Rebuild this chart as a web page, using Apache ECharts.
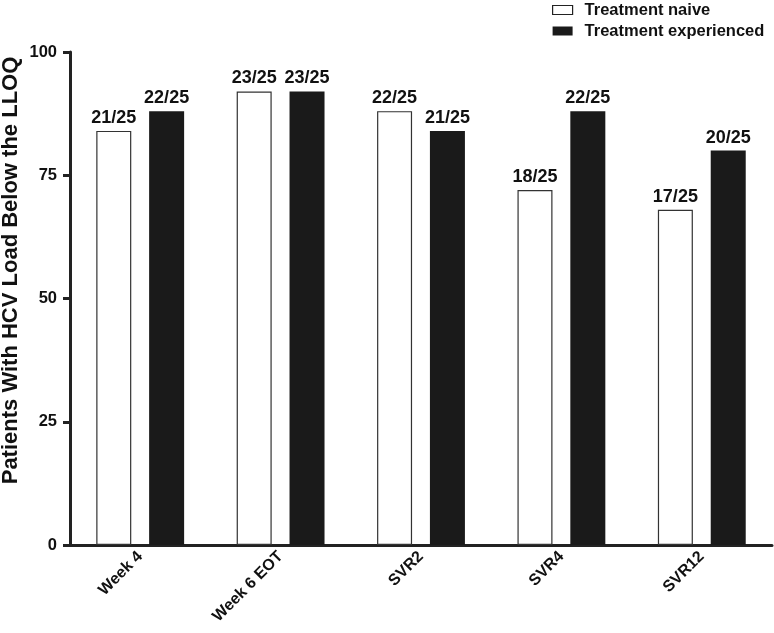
<!DOCTYPE html>
<html>
<head>
<meta charset="utf-8">
<script src="https://cdn.jsdelivr.net/npm/echarts@6/dist/echarts.min.js"></script>
<style>html,body{margin:0;padding:0;background:#fff;}#c{width:774px;height:633px;}</style>
</head>
<body>
<div id="c"></div>
<script>
const categories = ['Week 4', 'Week 6 EOT', 'SVR2', 'SVR4', 'SVR12'];
const naiveValues = [84, 92, 88, 72, 68];
const experiencedValues = [88, 92, 84, 88, 80];
const naiveLabels = ['21/25', '23/25', '22/25', '18/25', '17/25'];
const experiencedLabels = ['22/25', '23/25', '21/25', '22/25', '20/25'];
const yTicks = [0, 25, 50, 75, 100];

const chart = echarts.init(document.getElementById('c'));
const fontFamily = 'Liberation Sans, Arial, sans-serif';
chart.setOption({
  animation: false,
  backgroundColor: '#fff',
  legend: {
    orient: 'vertical',
    left: 552,
    top: 0,
    itemWidth: 20,
    itemHeight: 9,
    itemGap: 1,
    padding: 0,
    textStyle: {fontFamily, fontWeight: 'bold', fontSize: 16.5, color: '#111', lineHeight: 20, padding: [0, 0, 0, 7]},
    data: [
      {name: 'Treatment naive', icon: 'rect', itemStyle: {color: '#fff', borderColor: '#222', borderWidth: 1.2}},
      {name: 'Treatment experienced', icon: 'rect'}
    ]
  },
  grid: {left: 70, right: 2, top: 52, bottom: 88, containLabel: false, outerBoundsMode: 'none'},
  xAxis: {
    type: 'category',
    data: categories,
    axisLine: {lineStyle: {color: '#222', width: 3}},
    axisTick: {alignWithLabel: true, length: 6, lineStyle: {color: '#222', width: 3}},
    axisLabel: {rotate: 45, fontFamily, fontWeight: 'bold', fontSize: 16, color: '#111', margin: 9, interval: 0}
  },
  yAxis: {
    type: 'value',
    min: 0, max: 100, interval: 25,
    name: 'Patients With HCV Load Below the LLOQ',
    nameLocation: 'middle',
    nameGap: 48,
    nameMoveOverlap: false,
    nameTextStyle: {fontFamily, fontWeight: 'bold', fontSize: 22, color: '#111', padding: [0, 0, 0, 56]},
    splitLine: {show: false},
    axisLine: {show: true, lineStyle: {color: '#222', width: 3}},
    axisTick: {show: true, length: 7, lineStyle: {color: '#222', width: 3}},
    axisLabel: {fontFamily, fontWeight: 'bold', fontSize: 16.5, color: '#111', margin: 13,
      formatter: v => yTicks.includes(v) ? String(v) : ''}
  },
  series: [
    {
      name: 'Treatment naive',
      type: 'bar',
      data: naiveValues,
      barWidth: 35,
      barGap: '51%',
      itemStyle: {color: '#fff', borderColor: '#333', borderWidth: 1.2},
      label: {show: true, position: 'top', distance: 4, fontFamily, fontWeight: 'bold', fontSize: 18, color: '#111',
        formatter: p => naiveLabels[p.dataIndex]}
    },
    {
      name: 'Treatment experienced',
      type: 'bar',
      data: experiencedValues,
      barWidth: 35,
      itemStyle: {color: '#1a1a1a'},
      label: {show: true, position: 'top', distance: 4, fontFamily, fontWeight: 'bold', fontSize: 18, color: '#111',
        formatter: p => experiencedLabels[p.dataIndex]}
    }
  ]
});
</script>
</body>
</html>
